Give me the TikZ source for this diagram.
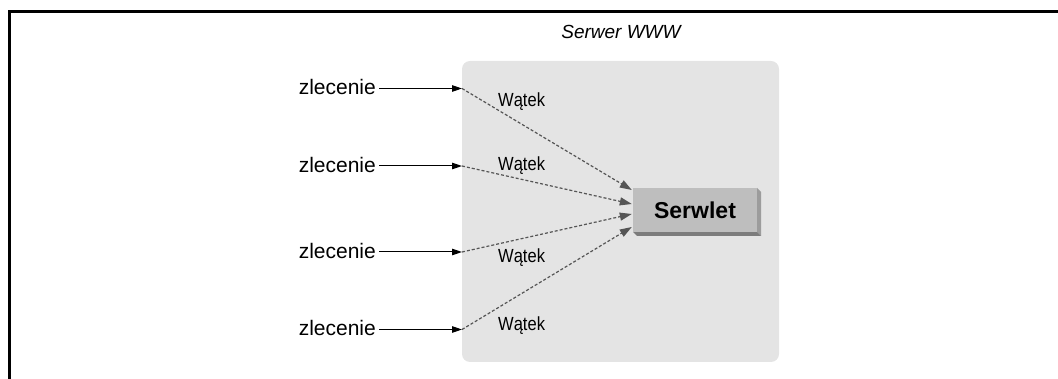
\documentclass[tikz,border=0pt]{standalone}
\usepackage{fontspec}
\setmainfont{Liberation Sans}
\usetikzlibrary{arrows.meta,calc}
\definecolor{panel}{HTML}{E4E4E4}
\definecolor{facegray}{HTML}{BEBEBE}
\definecolor{sidegray}{HTML}{9C9C9C}
\definecolor{basegray}{HTML}{7C7C7C}
\definecolor{threadline}{HTML}{555555}

\begin{document}
\begin{tikzpicture}[x=1pt,y=-1pt,
  frame/.style={line width=3.5pt},
  panelbox/.style={fill=panel, rounded corners=8pt, inner sep=0pt,
    minimum width=317pt, minimum height=301pt},
  servlet/.style={fill=facegray, inner sep=0pt, minimum width=124pt,
    minimum height=44pt, font=\fontsize{23}{26}\selectfont\bfseries},
  request/.style={inner sep=0pt, anchor=base east, font=\fontsize{21}{24}\selectfont},
  thread/.style={inner sep=0pt, anchor=base west, font=\fontsize{19}{22}\selectfont},
  reqarrow/.style={line width=1pt, -{Triangle[length=10pt,width=6.5pt]}},
  threadarrow/.style={threadline, line width=1.2pt, dash pattern=on 3pt off 2pt,
    -{Triangle[length=12pt,width=8pt]}},
]
\useasboundingbox (0,0) rectangle (1058,379);

% outer frame (top and left edges only)
\draw[frame] (9.3,379) -- (9.3,11.7) -- (1058,11.7);

% web server panel and its caption
\node[panelbox] (server) at (620.5,211.5) {};
\node[font=\fontsize{19}{22}\selectfont\itshape, anchor=base, inner sep=0pt]
  (title) at (621,39) {Serwer WWW};

% servlet block with bevelled edges
\fill[sidegray] (757,188) -- (761,192) -- (761,236) -- (757,232) -- cycle;
\fill[basegray] (633,232) -- (757,232) -- (761,236) -- (637,236) -- cycle;
\node[servlet] (serwlet) at (695,210) {Serwlet};

% incoming requests
\foreach \i/\y in {1/88.5, 2/166, 3/252, 4/329.5} {
  \node[request] (z\i) at (376,\y+6.5) {zlecenie};
  \coordinate (e\i) at (462,\y);
  \draw[reqarrow] ([xshift=3pt]z\i.east |- e\i) -- (e\i);
}

% threads handing requests to the servlet
\draw[threadarrow] (e1) -- ([xshift=-1pt,yshift=20pt]serwlet.west);
\draw[threadarrow] (e2) -- ([xshift=-1pt,yshift=6pt]serwlet.west);
\draw[threadarrow] (e3) -- ([xshift=-1pt,yshift=-4pt]serwlet.west);
\draw[threadarrow] (e4) -- ([xshift=-1pt,yshift=-17pt]serwlet.west);

% thread labels
\node[thread] (w1) at (498,106.7) {\scalebox{0.87}[1]{Wątek}};
\node[thread] (w2) at (498,170.7) {\scalebox{0.87}[1]{Wątek}};
\node[thread] (w3) at (498,262.7) {\scalebox{0.87}[1]{Wątek}};
\node[thread] (w4) at (498,330.7) {\scalebox{0.87}[1]{Wątek}};
\end{tikzpicture}
\end{document}
